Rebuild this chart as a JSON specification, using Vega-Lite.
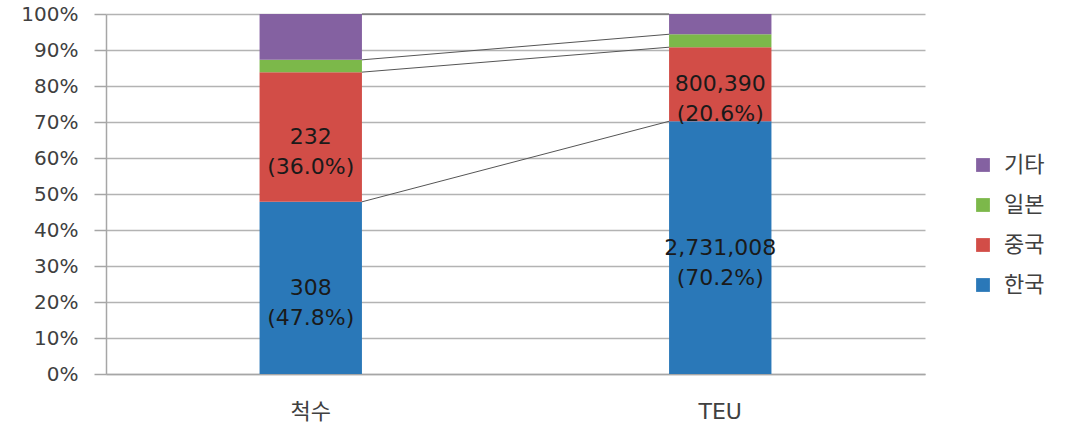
{
  "$schema": "https://vega.github.io/schema/vega-lite/v6.json",
  "autosize": "none",
  "width": 819,
  "height": 360,
  "padding": {"left": 106, "top": 14, "right": 145, "bottom": 59},
  "background": "white",
  "config": {
    "view": {"stroke": null},
    "font": "DejaVu Sans, Noto Sans CJK KR",
    "axisX": {
      "labelAngle": 0, "labelFontSize": 22, "labelColor": "#404040",
      "labelPadding": 27, "ticks": false, "domainColor": "#a6a6a6", "domainWidth": 1.5,
      "labelFont": "DejaVu Sans, Noto Sans CJK KR", "grid": false
    },
    "axisY": {
      "format": "%", "tickCount": 10, "labelOverlap": false,
      "labelFontSize": 20, "labelColor": "#404040", "labelPadding": 16,
      "ticks": true, "tickSize": 12, "tickColor": "#a6a6a6", "tickWidth": 1.5,
      "domainColor": "#a6a6a6", "domainWidth": 1.5,
      "gridColor": "#b3b3b3", "gridWidth": 1.5, "grid": true
    }
  },
  "data": {
    "values": [
      {"cat": "척수", "series": "한국", "value": 308},
      {"cat": "척수", "series": "중국", "value": 232},
      {"cat": "척수", "series": "일본", "value": 22},
      {"cat": "척수", "series": "기타", "value": 82},
      {"cat": "TEU", "series": "한국", "value": 2731008},
      {"cat": "TEU", "series": "중국", "value": 800390},
      {"cat": "TEU", "series": "일본", "value": 140000},
      {"cat": "TEU", "series": "기타", "value": 218900}
    ]
  },
  "transform": [
    {"calculate": "indexof(['한국','중국','일본','기타'], datum.series)", "as": "ord"},
    {"joinaggregate": [{"op": "sum", "field": "value", "as": "total"}], "groupby": ["cat"]},
    {"calculate": "datum.value / datum.total", "as": "pct"},
    {"stack": "value", "groupby": ["cat"], "sort": [{"field": "ord", "order": "ascending"}], "offset": "normalize", "as": ["y0", "y1"]}
  ],
  "layer": [
    {
      "mark": {"type": "bar"},
      "encoding": {
        "x": {
          "field": "cat", "type": "nominal", "sort": ["척수", "TEU"],
          "scale": {"paddingInner": 0.75, "paddingOuter": 0.375},
          "axis": {"title": null}
        },
        "y": {
          "field": "y0", "type": "quantitative",
          "scale": {"domain": [0, 1], "nice": false},
          "axis": {"title": null}
        },
        "y2": {"field": "y1"},
        "color": {
          "field": "series", "type": "nominal",
          "scale": {"domain": ["기타", "일본", "중국", "한국"], "range": ["#8461a1", "#7cb84a", "#d24d47", "#2a78b8"]},
          "legend": {
            "title": null, "orient": "none", "legendX": 866, "legendY": 140,
            "symbolType": "square", "symbolSize": 190, "symbolStrokeWidth": 0,
            "labelFontSize": 22, "labelColor": "#404040", "labelFont": "Noto Sans CJK KR",
            "rowPadding": 18, "labelOffset": 10
          }
        }
      }
    },
    {
      "transform": [
        {"pivot": "cat", "value": "y1", "groupby": ["series"]}
      ],
      "mark": {"type": "rule", "color": "#555", "strokeWidth": 1},
      "encoding": {
        "x": {"datum": "척수", "type": "nominal", "bandPosition": 1, "axis": {"title": null}},
        "x2": {"datum": "TEU", "bandPosition": 0},
        "y": {"field": "척수", "type": "quantitative", "axis": {"title": null}},
        "y2": {"field": "TEU"}
      }
    },
    {
      "transform": [
        {"filter": "datum.series == '한국' || datum.series == '중국'"},
        {"calculate": "[format(datum.value, ','), '(' + format(datum.pct, '.1%') + ')']", "as": "label"},
        {"calculate": "(datum.y0 + datum.y1) / 2", "as": "ymid"}
      ],
      "mark": {"type": "text", "fontSize": 22, "color": "#1a1a1a", "lineHeight": 30, "baseline": "middle", "align": "center", "font": "DejaVu Sans"},
      "encoding": {
        "x": {"field": "cat", "type": "nominal", "sort": ["척수", "TEU"], "axis": {"title": null}},
        "y": {"field": "ymid", "type": "quantitative", "axis": {"title": null}},
        "text": {"field": "label"}
      }
    }
  ]
}
